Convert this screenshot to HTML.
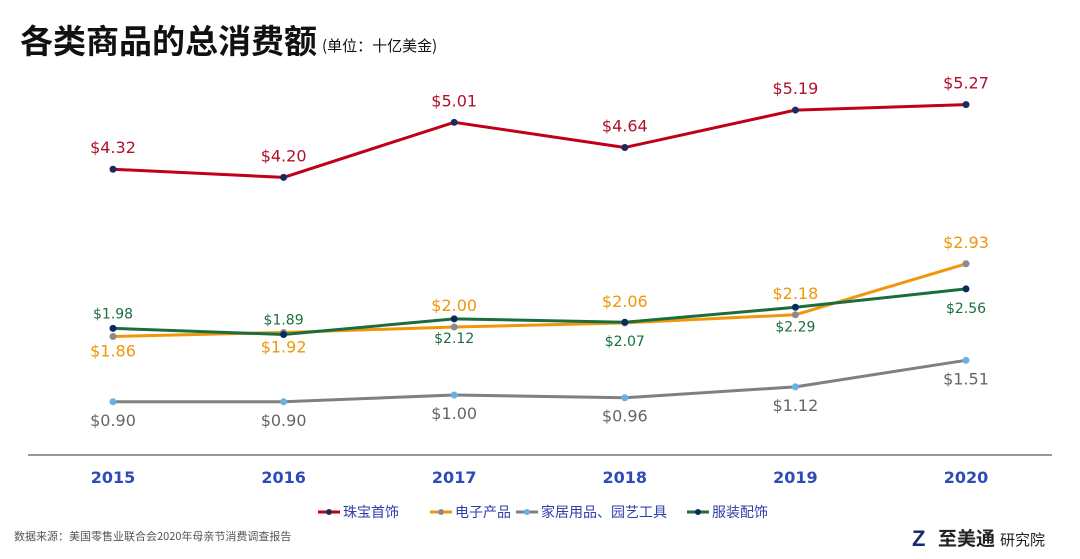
<!DOCTYPE html>
<html><head><meta charset="utf-8">
<style>
body{margin:0;width:1080px;height:554px;background:#fff;overflow:hidden;font-family:"Liberation Sans","Noto Sans CJK SC",sans-serif;}
svg text{font-family:"DejaVu Sans","Noto Sans CJK SC",sans-serif;}
</style></head><body>
<svg width="1080" height="554">
<text x="20" y="53" font-size="33" font-weight="bold" fill="#111" style="font-family:'Noto Sans CJK SC',sans-serif">各类商品的总消费额</text>
<text x="322" y="51" font-size="15" fill="#111" style="font-family:'Noto Sans CJK SC',sans-serif">(单位：十亿美金)</text>
<line x1="28" y1="455" x2="1052" y2="455" stroke="#333" stroke-width="1"/>
<g id="years"></g>
<g id="series"></g>
<g id="legend"></g>
<text x="14" y="540" font-size="11" fill="#555" style="font-family:'Noto Sans CJK SC',sans-serif">数据来源：美国零售业联合会2020年母亲节消费调查报告</text>
<g>
<text x="912" y="546" font-size="22" font-weight="bold" fill="#1a2a6c" style="font-family:'Liberation Sans',sans-serif">Z</text>
<text x="938" y="545" font-size="19" font-weight="bold" fill="#222" style="font-family:'Noto Sans CJK SC',sans-serif">至美通</text>
<text x="1000" y="545" font-size="15" fill="#222" style="font-family:'Noto Sans CJK SC',sans-serif">研究院</text>
</g>
</svg>
<script>
const years=['2015','2016','2017','2018','2019','2020'];
const jewelry=[4.32,4.20,5.01,4.64,5.19,5.27];
const electronics=[1.86,1.92,2.00,2.06,2.18,2.93];
const home=[0.90,0.90,1.00,0.96,1.12,1.51];
const apparel=[1.98,1.89,2.12,2.07,2.29,2.56];
const NS='http://www.w3.org/2000/svg';
const x=i=>113+i*170.6;
const y=v=>463-68*v;
function mk(t,a,p){const e=document.createElementNS(NS,t);for(const k in a)e.setAttribute(k,a[k]);p.appendChild(e);return e;}
const yg=document.getElementById('years');
years.forEach((yr,i)=>{const t=mk('text',{x:x(i),y:483,'text-anchor':'middle','font-size':16,'font-weight':'bold',fill:'#2e4bb8'},yg);t.textContent=yr;

});
const series=[
{name:'jewelry',vals:jewelry,color:'#c00018',dot:'#1a2a5e',lab:'#b0102a',off:()=>-16,w:3},
{name:'electronics',vals:electronics,color:'#f0960a',dot:'#8a8a8a',lab:'#f0960a',off:i=>i<2?20:-16,w:3},
{name:'home-garden',vals:home,color:'#808080',dot:'#6ab0e0',lab:'#666',off:()=>24,w:3},
{name:'apparel',vals:apparel,color:'#1a6e3e',dot:'#0a2a5e',lab:'#1a6e3e',off:i=>i<2?-10:24,w:3}];
const sg=document.getElementById('series');
series.forEach(s=>{
const g=mk('g',{},sg);


const pts=s.vals.map((v,i)=>x(i)+','+y(v)).join(' ');
const pl=mk('polyline',{points:pts,fill:'none',stroke:s.color,'stroke-width':s.w,'stroke-linejoin':'round'},g);


s.vals.forEach((v,i)=>{
const c=mk('circle',{cx:x(i),cy:y(v),r:3.5,fill:s.dot},g);


const t=mk('text',{x:x(i),y:y(v)+s.off(i),'text-anchor':'middle','font-size':s.name==='apparel'?14:16,fill:s.lab},g);
t.textContent='$'+v.toFixed(2);

});});
const lg=document.getElementById('legend');
const legs=[['珠宝首饰',0,318],['电子产品',1,430],['家居用品、园艺工具',2,516],['服装配饰',3,687]];
legs.forEach(([n,k,lx])=>{const s=series[k];
const g=mk('g',{},lg);


mk('line',{x1:lx,y1:512,x2:lx+22,y2:512,stroke:s.color,'stroke-width':3},g);
mk('circle',{cx:lx+11,cy:512,r:3,fill:s.dot},g);
const t=mk('text',{x:lx+25,y:517,'font-size':14,fill:'#2e3ea8'},g);t.textContent=n;});
</script>
</body></html>
